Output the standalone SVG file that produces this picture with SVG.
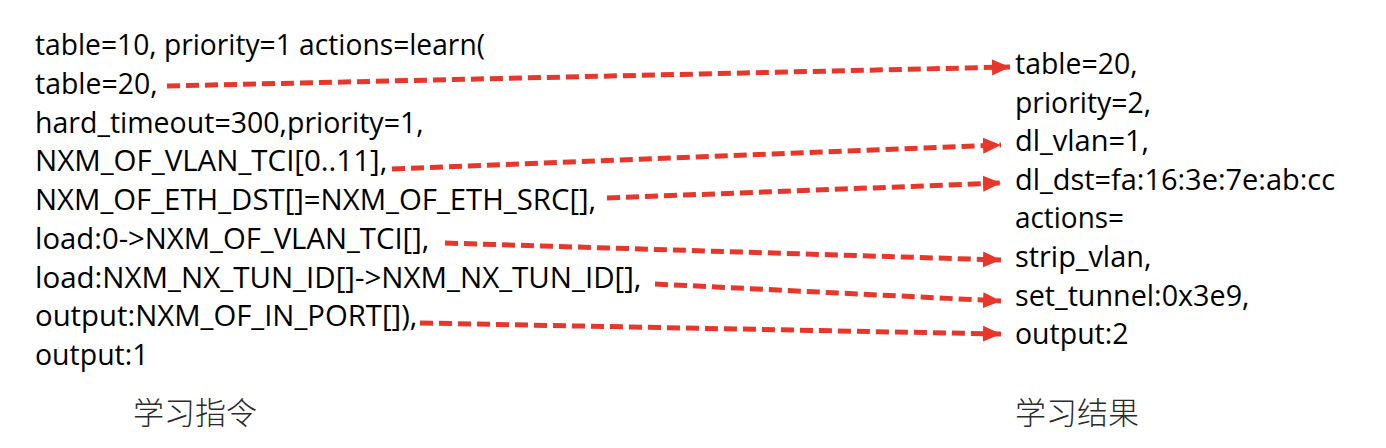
<svg xmlns="http://www.w3.org/2000/svg" width="1386" height="448" viewBox="0 0 1386 448">
<style>
.t{font-family:"Open Sans","Liberation Sans",sans-serif;font-size:29px;fill:#000;}
.cn{font-family:"Noto Sans CJK SC","Noto Sans",sans-serif;font-size:31px;fill:#2a2a2a;font-weight:300;}
.ar{fill:none;stroke:#e8362a;stroke-width:5;stroke-dasharray:13 6;marker-end:url(#ah);}
</style>
<defs>
<marker id="ah" markerUnits="userSpaceOnUse" markerWidth="20" markerHeight="18" viewBox="0 0 20 18" refX="18" refY="9" orient="auto">
<path d="M0,1 L18,9 L0,17 Z" fill="#e8362a"/>
</marker>
</defs>
<rect width="1386" height="448" fill="#fff"/>
<g id="learn-instruction">
<text class="t" x="35" y="55" textLength="450" lengthAdjust="spacingAndGlyphs">table=10, priority=1 actions=learn(</text>
<text class="t" x="35" y="93.75" textLength="122.5" lengthAdjust="spacingAndGlyphs">table=20,</text>
<text class="t" x="35" y="132.5" textLength="388.6" lengthAdjust="spacingAndGlyphs">hard_timeout=300,priority=1,</text>
<text class="t" x="35" y="171.25" textLength="352.3" lengthAdjust="spacingAndGlyphs">NXM_OF_VLAN_TCI[0..11],</text>
<text class="t" x="35" y="210" textLength="561.2" lengthAdjust="spacingAndGlyphs">NXM_OF_ETH_DST[]=NXM_OF_ETH_SRC[],</text>
<text class="t" x="35" y="248.75" textLength="394.3" lengthAdjust="spacingAndGlyphs">load:0-&gt;NXM_OF_VLAN_TCI[],</text>
<text class="t" x="35" y="287.5" textLength="606.5" lengthAdjust="spacingAndGlyphs">load:NXM_NX_TUN_ID[]-&gt;NXM_NX_TUN_ID[],</text>
<text class="t" x="35" y="326.25" textLength="382.4" lengthAdjust="spacingAndGlyphs">output:NXM_OF_IN_PORT[]),</text>
<text class="t" x="35" y="365" textLength="113.5" lengthAdjust="spacingAndGlyphs">output:1</text>
</g>
<g id="learn-result">
<text class="t" x="1015" y="74" textLength="122.5" lengthAdjust="spacingAndGlyphs">table=20,</text>
<text class="t" x="1015" y="112.6" textLength="136" lengthAdjust="spacingAndGlyphs">priority=2,</text>
<text class="t" x="1015" y="151.2" textLength="134.1" lengthAdjust="spacingAndGlyphs">dl_vlan=1,</text>
<text class="t" x="1015" y="189.8" textLength="320" lengthAdjust="spacingAndGlyphs">dl_dst=fa:16:3e:7e:ab:cc</text>
<text class="t" x="1015" y="228.4" textLength="109" lengthAdjust="spacingAndGlyphs">actions=</text>
<text class="t" x="1015" y="267" textLength="136.4" lengthAdjust="spacingAndGlyphs">strip_vlan,</text>
<text class="t" x="1015" y="305.6" textLength="234.5" lengthAdjust="spacingAndGlyphs">set_tunnel:0x3e9,</text>
<text class="t" x="1015" y="344.2" textLength="113.5" lengthAdjust="spacingAndGlyphs">output:2</text>
</g>
<g id="label-instruction">
<text class="cn" x="133" y="424">学习指令</text>
</g>
<g id="label-result">
<text class="cn" x="1015" y="424">学习结果</text>
</g>
<g id="connectors">
<path class="ar" d="M167,86 L1010,67"/>
<path class="ar" d="M392,169 L1001,145"/>
<path class="ar" d="M607,198 L1001,183"/>
<path class="ar" d="M445,243 L1001,260"/>
<path class="ar" d="M655,284 L1001,301"/>
<path class="ar" d="M420,323 L1001,334"/>
</g>
</svg>
